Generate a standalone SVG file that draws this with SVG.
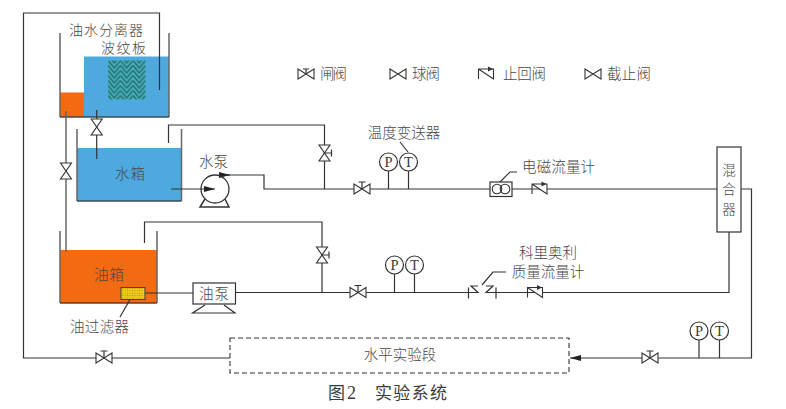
<svg xmlns="http://www.w3.org/2000/svg" width="786" height="409" viewBox="0 0 786 409">
<style>
text{font-family:"Liberation Serif","Noto Sans CJK SC",serif;fill:#3a3a3a;font-size:14.5px}
.c{font-family:"Noto Sans CJK SC",sans-serif;font-weight:300;fill:#484848}
.m{text-anchor:middle}
.p{fill:none;stroke:#333;stroke-width:1.2}
.w{fill:none;stroke:#666;stroke-width:1.5}
.b{fill:none;stroke:#3d4a50;stroke-width:1.6}
.v{fill:#fff;stroke:#333;stroke-width:1.1}
.g{fill:#fff;stroke:#333;stroke-width:1.2}
</style>
<defs>
<g id="bv"><path class="v" d="M-8,-5V5L8,-5V5Z"/></g>
<g id="gv"><path class="v" d="M-8,-5V5L8,-5V5Z"/><path class="p" d="M0,0V-7M-3.500,-7H3.500"/></g>
<g id="lg"><path class="v" d="M-8,-5V5L8,-5V5Z"/><path class="p" d="M0,0V-5M-3,-5H3"/></g>
<g id="vv"><path class="v" d="M-5.500,-8H5.500L-5.500,8H5.500Z"/></g>
<g id="vg"><path class="v" d="M-5.500,-8H5.500L-5.500,8H5.500Z"/><path class="p" d="M0,0H7M7,-3.500V3.500"/></g>
<g id="cv"><path class="v" d="M-7.500,5V-5H7.500V5L-7.500,-5" style="fill:#fff"/><path d="M7,-5L2,-7.500V-2.500Z" fill="#333"/></g>
<pattern id="chev" width="12.500" height="5" patternUnits="userSpaceOnUse" x="108" y="60.500">
<rect width="12.500" height="5" fill="#46aeb4"/>
<path d="M0,-5L6.250,2.500L12.500,-5M0,0L6.250,7.500L12.500,0M0,-10L6.250,-2.500L12.500,-10" fill="none" stroke="#17535f" stroke-width="1"/>
</pattern>
<pattern id="dots" width="2.400" height="2.400" patternUnits="userSpaceOnUse">
<rect width="2.400" height="2.400" fill="#f2cc1c"/><rect width="1" height="1" fill="#a78a20"/>
</pattern>
<marker id="ah" markerUnits="userSpaceOnUse" markerWidth="12" markerHeight="8" refX="11" refY="4" orient="auto"><path d="M0,1L11,4L0,7Z" fill="#222"/></marker>
</defs>

<g id="separator">
<rect x="84" y="56.500" width="85" height="60.500" fill="#4ea9de"/>
<rect x="60" y="92.500" width="24" height="24.500" fill="#f26a12"/>
<path class="w" d="M60,33V117M169,33V117"/>
<path class="b" d="M60,117H169"/>
<rect x="108" y="60.500" width="37.500" height="39" fill="url(#chev)"/>
<text class="c" x="69" y="35" textLength="74" style="font-size:14px">油水分离器</text>
<text class="c" x="101" y="53" textLength="45" style="font-size:14px">波纹板</text>
</g>

<g id="water-tank">
<rect x="77" y="148" width="104.500" height="53" fill="#4ea9de"/>
<path class="w" d="M77,129V201M181.500,129V201"/>
<path class="b" d="M77,201H181.500"/>
<text class="c" x="115" y="179" textLength="30">水箱</text>
</g>

<g id="oil-tank">
<rect x="60" y="250" width="97" height="53" fill="#f26a12"/>
<path class="w" d="M60,231V303M157,231V303"/>
<path d="M60,303H157" fill="none" stroke="#6b3a1c" stroke-width="1.600"/>
<text class="c" x="94" y="280" textLength="30">油箱</text>
<text class="c" x="70" y="332" textLength="59">油过滤器</text>
</g>

<g id="connectors">
<path class="p" d="M159.500,90V13H23.500V358H230"/>
<path class="w" d="M66,111V252"/>
<path class="p" d="M96.700,110V159"/>
<path class="p" d="M168.500,143V125H324.500V189"/>
<path class="p" d="M171,189H215" marker-end="url(#ah)"/>
<path class="p" d="M219,175H230" marker-end="url(#ah)"/>
<path class="p" d="M228,175H264V189H717"/>
<path class="p" d="M144.500,243V222H322V293"/>
<path class="p" d="M145,293H193M235.500,292.500H468M496,292.500H729V232"/>
<path class="p" d="M741,189H751.500V358H570" marker-end="url(#ah)"/>
<path class="p" d="M388.500,171V189M408.500,171V189M394.500,274V292.500M414.500,274V292.500M699,340V358M719.500,340V358"/>
<path class="p" d="M408,152L400,142M500,182L510,172H517M482,285L493,272H506M130,299.500L120,317"/>
</g>

<g id="filter">
<rect x="121" y="287.500" width="24" height="12" fill="url(#dots)" stroke="#444" stroke-width="1"/>
</g>

<g id="water-pump">
<circle cx="215" cy="189" r="14" fill="none" stroke="#333" stroke-width="1.300"/>
<path d="M205,199L200,207H229L225,199" fill="none" stroke="#333" stroke-width="1.500"/>
<text class="c" x="199" y="167" textLength="29">水泵</text>
</g>

<g id="oil-pump">
<rect x="193" y="283" width="42.500" height="21" class="g"/>
<path class="p" d="M205,305L192.500,313H235L224,305"/>
<text class="c" x="199" y="299" textLength="30">油泵</text>
</g>

<g id="mixer">
<rect x="717" y="147" width="24" height="85" class="g"/>
<text class="c m" x="729" y="174.500" style="font-size:13.500px">混</text>
<text class="c m" x="729" y="194" style="font-size:13.500px">合</text>
<text class="c m" x="729" y="213.500" style="font-size:13.500px">器</text>
</g>

<g id="test-section">
<rect x="230" y="338" width="339" height="35" fill="none" stroke="#333" stroke-width="1.100" stroke-dasharray="5 3"/>
<text class="c m" x="400" y="360">水平实验段</text>
</g>

<g id="valves">
<use href="#vv" x="96.700" y="127"/>
<use href="#vv" x="66" y="171"/>
<use href="#vg" x="324.500" y="153"/>
<use href="#vg" x="322" y="255"/>
<use href="#gv" x="362" y="189"/>
<use href="#gv" x="358" y="292.500"/>
<use href="#gv" x="650" y="358"/>
<use href="#gv" x="104" y="358"/>
<use href="#cv" x="539.500" y="189"/>
<use href="#cv" x="535" y="292.500"/>
</g>

<g id="coriolis">
<path class="p" d="M468.500,287.500V298.500M496,287.500V298.500"/>
<path class="p" d="M468,292.500H478L471,286H478M496,292.500H486L493,286H486"/>
<text class="c m" x="548" y="258">科里奥利</text>
<text class="c m" x="548" y="277">质量流量计</text>
</g>

<g id="flowmeter">
<rect x="490" y="182" width="22" height="14.500" class="g"/>
<circle cx="497" cy="189" r="4.800" fill="none" stroke="#333" stroke-width="1.100"/>
<circle cx="505" cy="189" r="4.800" fill="none" stroke="#333" stroke-width="1.100"/>
<text class="c" x="522" y="172" textLength="73">电磁流量计</text>
</g>

<g id="instruments">
<circle cx="388.500" cy="162" r="9" class="g"/><text class="m" x="388.500" y="167">P</text>
<circle cx="408.500" cy="162" r="9" class="g"/><text class="m" x="408.500" y="167">T</text>
<circle cx="394.500" cy="265" r="9" class="g"/><text class="m" x="394.500" y="270">P</text>
<circle cx="414.500" cy="265" r="9" class="g"/><text class="m" x="414.500" y="270">T</text>
<circle cx="699" cy="331" r="9" class="g"/><text class="m" x="699" y="336">P</text>
<circle cx="719.500" cy="331" r="9" class="g"/><text class="m" x="719.500" y="336">T</text>
<text class="c m" x="404" y="138">温度变送器</text>
</g>

<g id="legend">
<use href="#lg" x="306" y="74"/><text class="c" x="320" y="79" textLength="27">闸阀</text>
<use href="#bv" x="398" y="74"/><text class="c" x="412" y="79" textLength="28">球阀</text>
<use href="#cv" x="486" y="74"/><text class="c" x="503" y="79" textLength="43">止回阀</text>
<use href="#bv" x="593" y="74"/><text class="c" x="607" y="79" textLength="44">截止阀</text>
</g>

<text x="328" y="399" style="font-size:17px">图<tspan dx="2" style="font-size:18px">2</tspan></text>
<text x="375" y="399" style="font-size:17px" textLength="72">实验系统</text>
</svg>
